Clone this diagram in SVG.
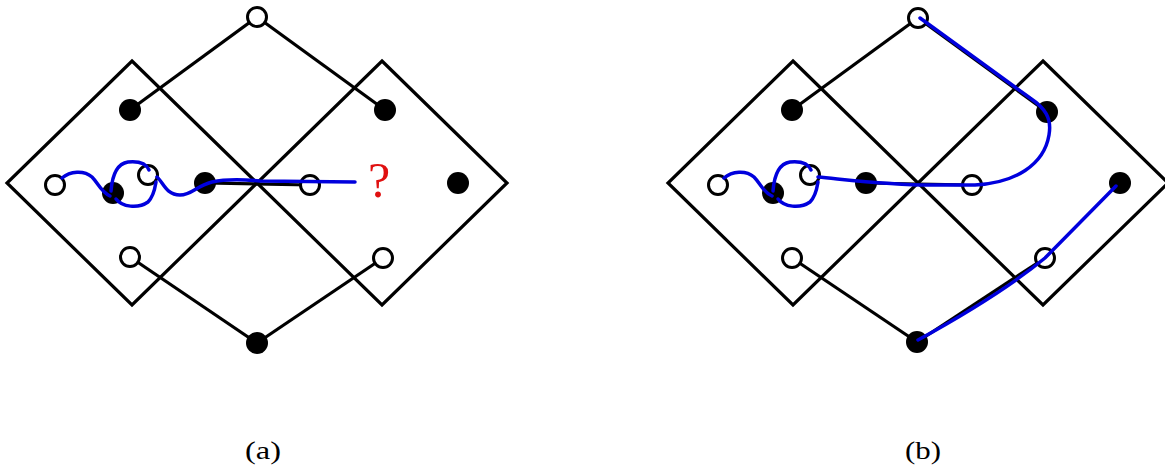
<svg xmlns="http://www.w3.org/2000/svg" width="1165" height="470" viewBox="0 0 1165 470">
<style>
.sq{fill:none;stroke:#000;stroke-width:3.2;stroke-linejoin:miter}
.edge{fill:none;stroke:#000;stroke-width:3.2}
.path{fill:none;stroke:#0000dd;stroke-width:3.5;stroke-linecap:round}
.open{fill:#fff;stroke:#000;stroke-width:3}
.full{fill:#000}
.lbl{font-family:"Liberation Serif","Times New Roman",serif;font-size:26px;fill:#000}
.q{font-family:"Liberation Serif","Times New Roman",serif;font-size:50px;fill:#e01010}
</style>
<rect width="1165" height="470" fill="#fff"/>
<g id="squares">
<polygon class="sq" points="132,61 257,183 132,305 7,183"/>
<polygon class="sq" points="382,61 507,183 382,305 257,183"/>
<polygon class="sq" points="793,61 918,183 793,305 668,183"/>
<polygon class="sq" points="1043,61 1168,183 1043,305 918,183"/>
</g>
<g id="connectors">
<line class="edge" x1="257" y1="17" x2="130" y2="110"/>
<line class="edge" x1="257" y1="17" x2="385" y2="110"/>
<line class="edge" x1="257" y1="343" x2="130" y2="257"/>
<line class="edge" x1="257" y1="343" x2="383" y2="258"/>
<line class="edge" x1="205" y1="183" x2="310" y2="185"/>
<line class="edge" x1="918" y1="18" x2="792" y2="110"/>
<line class="edge" x1="918" y1="18" x2="1047" y2="112"/>
<line class="edge" x1="917" y1="342" x2="792" y2="258"/>
<line class="edge" x1="917" y1="342" x2="1045" y2="258"/>
<line class="edge" x1="866" y1="183" x2="972" y2="185"/>
</g>
<g id="nodes-a">
<g id="a-top"><circle class="open" cx="257" cy="17" r="9.5"/></g>
<g id="a-ul"><circle class="full" cx="130" cy="110" r="11"/></g>
<g id="a-ur"><circle class="full" cx="385" cy="110" r="11"/></g>
<g id="a-m1"><circle class="open" cx="55" cy="185" r="9.5"/></g>
<g id="a-m2"><circle class="full" cx="113" cy="193" r="11"/></g>
<g id="a-m3"><circle class="open" cx="148" cy="175" r="9.5"/></g>
<g id="a-m4"><circle class="full" cx="205" cy="183" r="11"/></g>
<g id="a-m5"><circle class="open" cx="310" cy="185" r="9.5"/></g>
<g id="a-m6"><circle class="full" cx="458" cy="183" r="11"/></g>
<g id="a-ll"><circle class="open" cx="130" cy="257" r="9.5"/></g>
<g id="a-lr"><circle class="open" cx="383" cy="258" r="9.5"/></g>
<g id="a-bot"><circle class="full" cx="257" cy="343" r="11"/></g>
</g>
<g id="nodes-b">
<g id="b-top"><circle class="open" cx="918" cy="18" r="9.5"/></g>
<g id="b-ul"><circle class="full" cx="792" cy="110" r="11"/></g>
<g id="b-ur"><circle class="full" cx="1047" cy="112" r="11"/></g>
<g id="b-m1"><circle class="open" cx="718" cy="185" r="9.5"/></g>
<g id="b-m2"><circle class="full" cx="773" cy="193" r="11"/></g>
<g id="b-m3"><circle class="open" cx="810" cy="175" r="9.5"/></g>
<g id="b-m4"><circle class="full" cx="866" cy="183" r="11"/></g>
<g id="b-m5"><circle class="open" cx="972" cy="185" r="9.5"/></g>
<g id="b-m6"><circle class="full" cx="1120" cy="183" r="11"/></g>
<g id="b-ll"><circle class="open" cx="792" cy="258" r="9.5"/></g>
<g id="b-lr"><circle class="open" cx="1045" cy="258" r="9.5"/></g>
<g id="b-bot"><circle class="full" cx="917" cy="342" r="11"/></g>
</g>
<g id="paths">
<path class="path" d="M62,178 C70,171 84,170 92,177 C98,183 101,192 110,196"/>
<path class="path" d="M111,191 C112,178 115,164 128,162 C138,161 146,163 149,170"/>
<path class="path" d="M116,199 C122,207 138,209 148,202 C154,196 155,188 156,182"/>
<path class="path" d="M157,177 C163,182 166,195 180,195 C192,195 196,186 212,182 C230,178 250,180 260,181 L355,182"/>
<path class="path" d="M724,178 C732,171 746,170 754,177 C760,183 763,192 772,196"/>
<path class="path" d="M773,191 C774,178 777,164 790,162 C800,161 808,163 811,170"/>
<path class="path" d="M778,199 C784,207 800,209 810,202 C816,196 817,188 818,182"/>
<path class="path" d="M920,18 L1030,98 C1045,108 1052,118 1049,135 C1044,165 1015,183 975,185 L930,185 C890,185 850,180 818,177"/>
<path class="path" d="M918,340 Q1000,295 1045,258 L1116,186"/>
</g>
<g id="labels">
<text class="q" x="379" y="197" text-anchor="middle">?</text>
<text class="lbl" x="263" y="459" text-anchor="middle" textLength="36" lengthAdjust="spacingAndGlyphs">(a)</text>
<text class="lbl" x="923" y="459" text-anchor="middle" textLength="36" lengthAdjust="spacingAndGlyphs">(b)</text>
</g>
</svg>
